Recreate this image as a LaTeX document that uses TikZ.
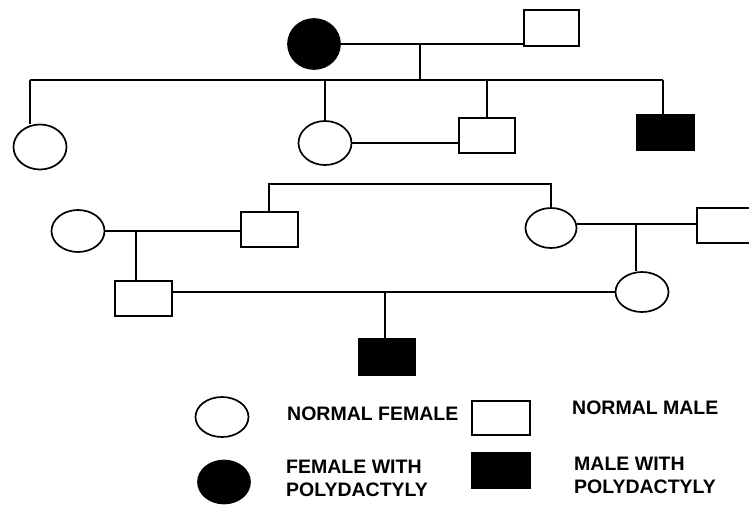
\documentclass[tikz,border=0pt]{standalone}
\usepackage{fontspec}
\setmainfont{Liberation Sans}
\usetikzlibrary{shapes.geometric}
\begin{document}
\begin{tikzpicture}[x=1pt,y=-1pt,
  female/.style={draw,ellipse,line width=1.7pt,inner sep=0pt,minimum width=53pt,minimum height=43pt},
  male/.style={draw,rectangle,line width=2pt,inner sep=0pt,minimum width=56pt,minimum height=35pt},
  affected/.style={fill=black},
  link/.style={line width=2.2pt},
  legendtext/.style={anchor=west,align=left,font=\bfseries\fontsize{19.5}{23}\selectfont,inner sep=0pt}]
\useasboundingbox (0,0) rectangle (749,507);

% generation I
\node[female,affected,minimum width=52pt,minimum height=50pt] (f1) at (314,44) {};
\node[male,minimum width=55pt,minimum height=36pt] (m1) at (551,28) {};
\coordinate (d1) at (420,44);
\coordinate (s1) at (420,80);

% generation II
\node[female,minimum height=45pt] (a) at (40,147) {};
\node[female,minimum height=44pt] (b) at (325,143) {};
\node[male] (c) at (487,135) {};
\node[male,affected,minimum width=57pt] (d) at (665,132) {};
\coordinate (sl) at (30,80);
\coordinate (sr) at (663,80);

% generation III
\node[female,minimum height=42pt] (e) at (78,231) {};
\node[male,minimum width=57pt] (g) at (269,229) {};
\node[female,minimum width=51pt,minimum height=40pt] (h) at (551,228) {};
\node[male] (i) at (725,225) {};
\coordinate (gu) at (269,184);
\coordinate (hu) at (551,184);
\coordinate (d3) at (136,231);
\coordinate (d4) at (636,224);

% generation IV
\node[male,minimum width=57pt] (j) at (143,298) {};
\node[female,minimum height=40pt] (k) at (642,292) {};
\coordinate (d5) at (385,292);

% generation V
\node[male,affected,minimum height=36pt] (l) at (387,357) {};

% connectors
\draw[link] (f1.east) -- (f1.east -| m1.west);
\draw[link] (d1) -- (s1);
\draw[link] (sl) -- (sr);
\draw[link] (sl) -- (sl |- a.north);
\draw[link] (b.north |- s1) -- (b.north);
\draw[link] (c.north |- s1) -- (c.north);
\draw[link] (sr) -- (sr |- d.north);
\draw[link] (b.east) -- (b.east -| c.west);
\draw[link] (g.north) -- (gu) -- (hu) -- (h.north);
\draw[link] (e.east) -- (e.east -| g.west);
\draw[link] (d3) -- (d3 |- j.north);
\draw[link] (h.east |- d4) -- (d4 -| i.west);
\draw[link] (d4) -- (d4 |- k.north);
\draw[link] (j.east |- d5) -- (d5 -| k.west);
\draw[link] (d5) -- (d5 |- l.north);

% key
\node[female,minimum height=40pt] (kf) at (222,417) {};
\node[legendtext] (kft) at (287,414) {NORMAL FEMALE};
\node[male,minimum width=58pt,minimum height=34pt] (km) at (501,418) {};
\node[legendtext] (kmt) at (572,408) {NORMAL MALE};
\node[female,affected,minimum width=52pt] (ka) at (224,482) {};
\node[legendtext] (kat) at (286,478) {FEMALE WITH\\POLYDACTYLY};
\node[male,affected,minimum width=58pt] (kb) at (501,470) {};
\node[legendtext] (kbt) at (574,475) {MALE WITH\\POLYDACTYLY};
\end{tikzpicture}
\end{document}
